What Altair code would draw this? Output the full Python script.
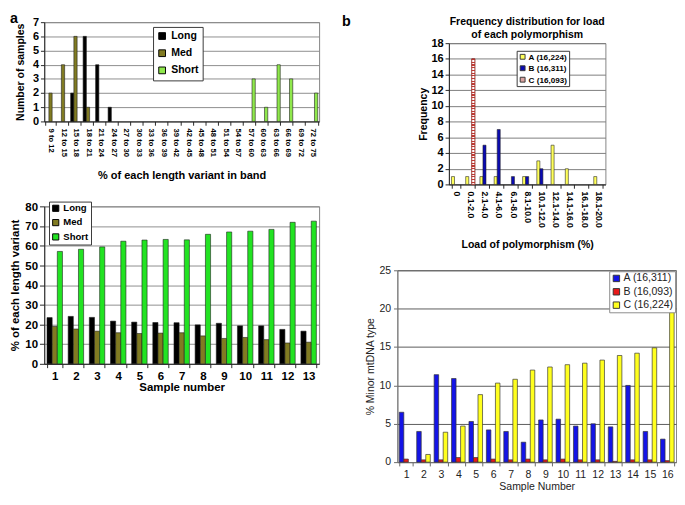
import altair as alt
import pandas as pd

FONT = "Liberation Sans"

# ---------------- data ----------------
# panel a (top): number of samples per % band
tl_bins = ["9 to 12", "12 to 15", "15 to 18", "18 to 21", "21 to 24", "24 to 27",
           "27 to 30", "30 to 33", "33 to 36", "36 to 39", "39 to 42", "42 to 45",
           "45 to 48", "48 to 51", "51 to 54", "54 to 57", "57 to 60", "60 to 63",
           "63 to 66", "66 to 69", "69 to 72", "72 to 75"]
tl_long = [0, 0, 2, 6, 4, 1, 0, 0, 0, 0, 0, 0, 0, 0, 0, 0, 0, 0, 0, 0, 0, 0]
tl_med = [2, 4, 6, 1, 0, 0, 0, 0, 0, 0, 0, 0, 0, 0, 0, 0, 0, 0, 0, 0, 0, 0]
tl_short = [0, 0, 0, 0, 0, 0, 0, 0, 0, 0, 0, 0, 0, 0, 0, 0, 3, 1, 4, 3, 0, 2]
variants = ["Long", "Med", "Short"]

# panel a (bottom): % of each length variant per sample
bl_samples = ["1", "2", "3", "4", "5", "6", "7", "8", "9", "10", "11", "12", "13"]
bl_long = [23.5, 24.1, 23.6, 21.7, 21.2, 21.0, 20.9, 19.8, 20.6, 19.3, 19.3, 17.5, 16.6]
bl_med = [19.0, 17.7, 16.6, 15.8, 15.4, 15.6, 15.8, 14.2, 12.9, 13.4, 12.3, 10.6, 11.0]
bl_short = [57.1, 58.2, 59.4, 62.3, 62.9, 63.2, 63.0, 65.8, 67.0, 67.4, 68.3, 71.9, 72.5]

# panel b (top): frequency distribution of load
tr_title = ["Frequency distribution for load", "of each polymorphism"]
tr_bins = ["0", "0.1-2.0", "2.1-4.0", "4.1-6.0", "6.1-8.0", "8.1-10.0", "10.1-12.0",
           "12.1-14.0", "14.1-16.0", "16.1-18.0", "18.1-20.0"]
tr_a = [1, 1, 1, 1, 0, 1, 3, 5, 2, 0, 1]
tr_b = [0, 0, 5, 7, 1, 1, 2, 0, 0, 0, 0]
tr_c = [0, 16, 0, 0, 0, 0, 0, 0, 0, 0, 0]
tr_series = ["A (16,224)", "B (16,311)", "C (16,093)"]

# panel b (bottom): % minor mtDNA type per sample
br_samples = ["1", "2", "3", "4", "5", "6", "7", "8", "9", "10", "11", "12", "13", "14", "15", "16"]
br_a = [6.5, 4.0, 11.4, 10.9, 5.3, 4.2, 4.0, 2.6, 5.5, 5.6, 4.7, 5.0, 4.6, 10.0, 4.0, 3.0]
br_b = [0.4, 0.3, 0.3, 0.6, 0.6, 0.4, 0.3, 0.4, 0.3, 0.4, 0.3, 0.3, 0.1, 0.3, 0.3, 0.2]
br_c = [0.0, 1.0, 3.9, 4.7, 8.8, 10.3, 10.8, 12.0, 12.4, 12.7, 12.9, 13.3, 13.9, 14.2, 14.9, 19.7]
br_series = ["A (16,311)", "B (16,093)", "C (16,224)"]


def long_df(cats, names, series, cat, ser, val):
    rows = []
    for n, vals in zip(names, series):
        for c, v in zip(cats, vals):
            if v > 0:
                rows.append({cat: c, ser: n, val: v})
    return pd.DataFrame(rows)


def ax(**kw):
    base = dict(labelFont=FONT, titleFont=FONT)
    base.update(kw)
    return alt.Axis(**base)


def label(txt, x, y, size=15, align="left", baseline="top"):
    return alt.Chart(pd.DataFrame({"t": [txt]})).mark_text(
        font=FONT, fontSize=size, fontWeight="bold", align=align, baseline=baseline, color="#000"
    ).encode(text="t:N", x=alt.value(x), y=alt.value(y))


def spacer(w=1, h=1):
    return alt.Chart(pd.DataFrame({"v": [0]})).mark_rect(opacity=0).encode(
        x=alt.value(0), x2=alt.value(w), y=alt.value(0), y2=alt.value(h)
    ).properties(width=w, height=h, view=alt.ViewBackground(stroke="transparent"))


RES = dict(x="independent", y="independent", color="independent", xOffset="independent")


def vcat(*charts, spacing):
    return alt.vconcat(*charts, spacing=spacing).resolve_scale(**RES).resolve_legend(color="independent")


def hcat(*charts, spacing):
    return alt.hconcat(*charts, spacing=spacing).resolve_scale(**RES).resolve_legend(color="independent")


# ---------------- panel a top ----------------
tl_df = long_df(tl_bins, variants, [tl_long, tl_med, tl_short], "bin", "variant", "count")
tl_bars = alt.Chart(tl_df).mark_bar(stroke="#1a1a1a", strokeWidth=0.6).encode(
    x=alt.X("bin:N", sort=tl_bins,
            scale=alt.Scale(domain=tl_bins, paddingInner=0.22, paddingOuter=0.11),
            axis=ax(title="% of each length variant in band", labelAngle=90, labelFontSize=8,
                    labelFontWeight="bold", labelColor="#000", labelPadding=3, tickBand="extent",
                    tickSize=4, tickColor="#222", domainColor="#222", titleFontSize=11.5,
                    titleFontWeight="bold", titleColor="#000", titlePadding=14, grid=False)),
    xOffset=alt.XOffset("variant:N", scale=alt.Scale(domain=variants, paddingInner=0, paddingOuter=0)),
    y=alt.Y("count:Q", scale=alt.Scale(domain=[0, 7], nice=False),
            axis=ax(title="Number of samples", values=[0, 1, 2, 3, 4, 5, 6, 7], labelFontSize=11.5,
                    labelFontWeight="bold", labelColor="#000", labelPadding=2, tickSize=4,
                    tickColor="#222", domainColor="#222", titleFontSize=11, titleFontWeight="bold",
                    titleColor="#000", titlePadding=7, grid=True, gridColor="#8a8a8a")),
    color=alt.Color("variant:N",
                    scale=alt.Scale(domain=variants, range=["#000000", "#817b22", "#8fe84c"]),
                    legend=alt.Legend(title=None, orient="none", legendX=114, legendY=5,
                                      direction="vertical", fillColor="white", strokeColor="#333",
                                      padding=4, symbolType="square", symbolSize=50,
                                      symbolStrokeColor="#000", symbolStrokeWidth=1,
                                      labelFont=FONT, labelFontWeight="bold", labelFontSize=11,
                                      labelColor="#000", rowPadding=5, labelOffset=4)),
)
tl = alt.layer(tl_bars, label("a", -36, -11), label("b", 312, -8)).properties(width=288, height=104)

# ---------------- panel a bottom ----------------
bl_df = long_df(bl_samples, variants, [bl_long, bl_med, bl_short], "sample", "variant", "pct")
bl_bars = alt.Chart(bl_df).mark_bar(stroke="#1a1a1a", strokeWidth=0.6).encode(
    x=alt.X("sample:N", sort=bl_samples,
            scale=alt.Scale(domain=bl_samples, paddingInner=0.27, paddingOuter=0.13),
            axis=ax(title="Sample number", labelAngle=0, labelFontSize=12, labelFontWeight="bold",
                    labelColor="#000", labelPadding=3, tickBand="extent", tickSize=4,
                    tickColor="#222", domainColor="#222", titleFontSize=12, titleFontWeight="bold",
                    titleColor="#000", titlePadding=1, grid=False)),
    xOffset=alt.XOffset("variant:N", scale=alt.Scale(domain=variants, paddingInner=0, paddingOuter=0)),
    y=alt.Y("pct:Q", scale=alt.Scale(domain=[0, 80], nice=False),
            axis=ax(title="% of each length variant", values=[0, 10, 20, 30, 40, 50, 60, 70, 80],
                    labelFontSize=12, labelFontWeight="bold", labelColor="#000", labelPadding=2,
                    tickSize=5, tickColor="#222", domainColor="#222", titleFontSize=12,
                    titleFontWeight="bold", titleColor="#000", titlePadding=4, grid=True,
                    gridColor="#8a8a8a")),
    color=alt.Color("variant:N",
                    scale=alt.Scale(domain=variants, range=["#000000", "#817b22", "#22e322"]),
                    legend=alt.Legend(title=None, orient="none", legendX=5, legendY=-5,
                                      direction="vertical", fillColor="white", strokeColor="#333",
                                      padding=2, symbolType="square", symbolSize=42,
                                      symbolStrokeColor="#000", symbolStrokeWidth=1,
                                      labelFont=FONT, labelFontWeight="bold", labelFontSize=10,
                                      labelColor="#000", rowPadding=3, labelOffset=3)),
)
bl = bl_bars.properties(width=288, height=165)

# ---------------- panel b top ----------------
stops = []
n_stripes = 46
for i in range(n_stripes):
    a = i / n_stripes
    b = (i + 0.45) / n_stripes
    c = (i + 1) / n_stripes
    stops += [alt.GradientStop(offset=a, color="#c23a34"), alt.GradientStop(offset=b, color="#c23a34"),
              alt.GradientStop(offset=b, color="#ffffff"), alt.GradientStop(offset=c, color="#ffffff")]
hatch = alt.LinearGradient(gradient="linear", stops=stops, x1=0, x2=0, y1=0, y2=1)

TR_W, TR_H = 164, 148
tr_df = long_df(tr_bins, tr_series, [tr_a, tr_b, tr_c], "load", "poly", "freq")
tr_x = alt.X("load:N", sort=tr_bins,
             scale=alt.Scale(domain=tr_bins, paddingInner=0.36, paddingOuter=0.18),
             axis=ax(title="Load of polymorphism (%)", labelAngle=90, labelFontSize=9,
                     labelFontWeight="bold", labelColor="#000", labelPadding=3, tickBand="extent",
                     tickSize=4, tickColor="#222", domainColor="#222", titleFontSize=11,
                     titleFontWeight="bold", titleColor="#000", titlePadding=12, grid=False))
tr_xo = alt.XOffset("poly:N", scale=alt.Scale(domain=tr_series, paddingInner=0, paddingOuter=0))
tr_y = alt.Y("freq:Q", scale=alt.Scale(domain=[0, 18], nice=False),
             axis=ax(title="Frequency", values=[0, 2, 4, 6, 8, 10, 12, 14, 16, 18], labelFontSize=11.5,
                     labelFontWeight="bold", labelColor="#000", labelPadding=2, tickSize=4,
                     tickColor="#222", domainColor="#222", titleFontSize=11, titleFontWeight="bold",
                     titleColor="#000", titlePadding=3, grid=True, gridColor="#7a7a7a"))
tr_bars = alt.Chart(tr_df).mark_bar(stroke="#222", strokeWidth=0.6).encode(
    x=tr_x, xOffset=tr_xo, y=tr_y,
    color=alt.Color("poly:N",
                    scale=alt.Scale(domain=tr_series, range=["#ffff5a", "#0a0ab4", "#dba3a0"]),
                    legend=alt.Legend(title=None, orient="none", legendX=71, legendY=8,
                                      direction="vertical", fillColor="white", strokeColor="#333",
                                      padding=2, symbolType="square", symbolSize=26,
                                      symbolStrokeColor="#333", symbolStrokeWidth=1,
                                      labelFont=FONT, labelFontWeight="bold", labelFontSize=8.5,
                                      labelColor="#000", rowPadding=2, labelOffset=2)),
)
tr_hatch = alt.Chart(tr_df).transform_filter(alt.datum.poly == tr_series[2]).mark_bar(
    fill=hatch, stroke="#b0302c", strokeWidth=0.8
).encode(x=tr_x, xOffset=tr_xo, y=tr_y)
tr = alt.layer(
    tr_bars, tr_hatch,
    label(tr_title[0], TR_W / 2, -22, size=11, align="center", baseline="middle"),
    label(tr_title[1], TR_W / 2, -8, size=11, align="center", baseline="middle"),
).properties(width=TR_W, height=TR_H)

# ---------------- panel b bottom ----------------
br_df = long_df(br_samples, br_series, [br_a, br_b, br_c], "sample", "type", "pct")
br_bars = alt.Chart(br_df).mark_bar(stroke="#333", strokeWidth=0.7).encode(
    x=alt.X("sample:N", sort=br_samples,
            scale=alt.Scale(domain=br_samples, paddingInner=0.22, paddingOuter=0.11),
            axis=ax(title="Sample Number", labelAngle=0, labelFontSize=11, labelColor="#222",
                    labelPadding=3, tickBand="extent", tickSize=4, tickColor="#666",
                    domainColor="#777", titleFontSize=11, titleFontWeight="normal",
                    titleColor="#222", titlePadding=2, grid=False)),
    xOffset=alt.XOffset("type:N", scale=alt.Scale(domain=br_series, paddingInner=0, paddingOuter=0)),
    y=alt.Y("pct:Q", scale=alt.Scale(domain=[0, 25], nice=False),
            axis=ax(title="% Minor mtDNA type", values=[0, 5, 10, 15, 20, 25], labelFontSize=11,
                    labelColor="#222", labelPadding=3, tickSize=4, tickColor="#666",
                    domainColor="#777", titleFontSize=11, titleFontWeight="normal",
                    titleColor="#222", titlePadding=4, grid=True, gridColor="#555")),
    color=alt.Color("type:N",
                    scale=alt.Scale(domain=br_series, range=["#1414e6", "#e81818", "#ffff1e"]),
                    legend=alt.Legend(title=None, orient="none", legendX=222, legendY=1,
                                      direction="vertical", fillColor="white", strokeColor="#888",
                                      padding=2, symbolType="square", symbolSize=45,
                                      symbolStrokeColor="#333", symbolStrokeWidth=1,
                                      labelFont=FONT, labelFontSize=11, labelColor="#222",
                                      rowPadding=2, labelOffset=2)),
)
br = br_bars.properties(width=292, height=201)

# ---------------- layout ----------------
left = vcat(spacer(), vcat(tl, bl, spacing=19), spacing=0)
right = vcat(spacer(), vcat(hcat(spacer(), tr, spacing=18), br, spacing=14), spacing=5)
chart = (
    hcat(left, right, spacing=13)
    .properties(padding={"top": -12, "bottom": 0, "left": 0, "right": 0}, background="white")
    .configure_view(stroke="#808080", strokeWidth=1)
)
chart.save("out.html", embed_options={"renderer": "svg", "actions": False})
